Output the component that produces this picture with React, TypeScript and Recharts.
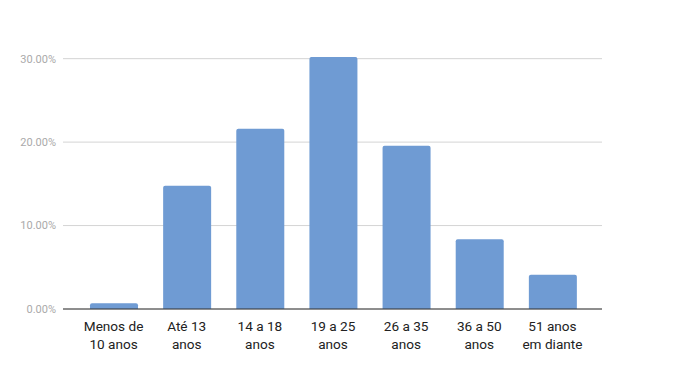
import React from "react";
import { BarChart, Bar, XAxis, YAxis, CartesianGrid, ReferenceLine } from "recharts";

const categories = [
  ["Menos de", "10 anos"],
  ["Até 13", "anos"],
  ["14 a 18", "anos"],
  ["19 a 25", "anos"],
  ["26 a 35", "anos"],
  ["36 a 50", "anos"],
  ["51 anos", "em diante"],
];
const shares = [0.68, 14.76, 21.6, 30.2, 19.56, 8.37, 4.1];
const yTicks = [0, 10, 20, 30];

const data = categories.map((c, i) => ({ name: c.join(" "), value: shares[i] }));

function AgeTick(props: any) {
  const { x, y, payload } = props;
  const lines = categories[payload.index] || [payload.value];
  return (
    <text x={x} y={y} textAnchor="middle" fill="#222" fontSize={13.6} fontFamily="Roboto">
      {lines.map((l, i) => (
        <tspan key={i} x={x} dy={i === 0 ? 22 : 18}>
          {l}
        </tspan>
      ))}
    </text>
  );
}

export default function App() {
  return (
    <div style={{ position: "absolute", left: 0, top: 0, background: "#fff" }}>
      <BarChart
        width={685}
        height={372}
        data={data}
        margin={{ top: 57, right: 83, bottom: 0, left: 0 }}
        barSize={48}
      >
        <CartesianGrid vertical={false} horizontalValues={yTicks} stroke="#d4d4d4" strokeWidth={1} />
        <XAxis
          dataKey="name"
          tick={<AgeTick />}
          tickLine={false}
          axisLine={false}
          tickSize={0}
          tickMargin={0}
          interval={0}
          padding={{ left: 14, right: 13 }}
          height={63}
        />
        <YAxis
          width={63}
          domain={[0, "dataMax"]}
          ticks={yTicks}
          tickFormatter={(v: number) => v.toFixed(2) + "%"}
          tick={{ fill: "#aaaaaa", fontSize: 11, fontFamily: "Roboto" }}
          tickLine={false}
          axisLine={false}
          tickSize={0}
          tickMargin={7}
        />
        <Bar dataKey="value" fill="#6f9bd3" radius={[2, 2, 0, 0]} isAnimationActive={false} />
        <ReferenceLine y={0} stroke="#333" strokeWidth={1.2} />
      </BarChart>
    </div>
  );
}
